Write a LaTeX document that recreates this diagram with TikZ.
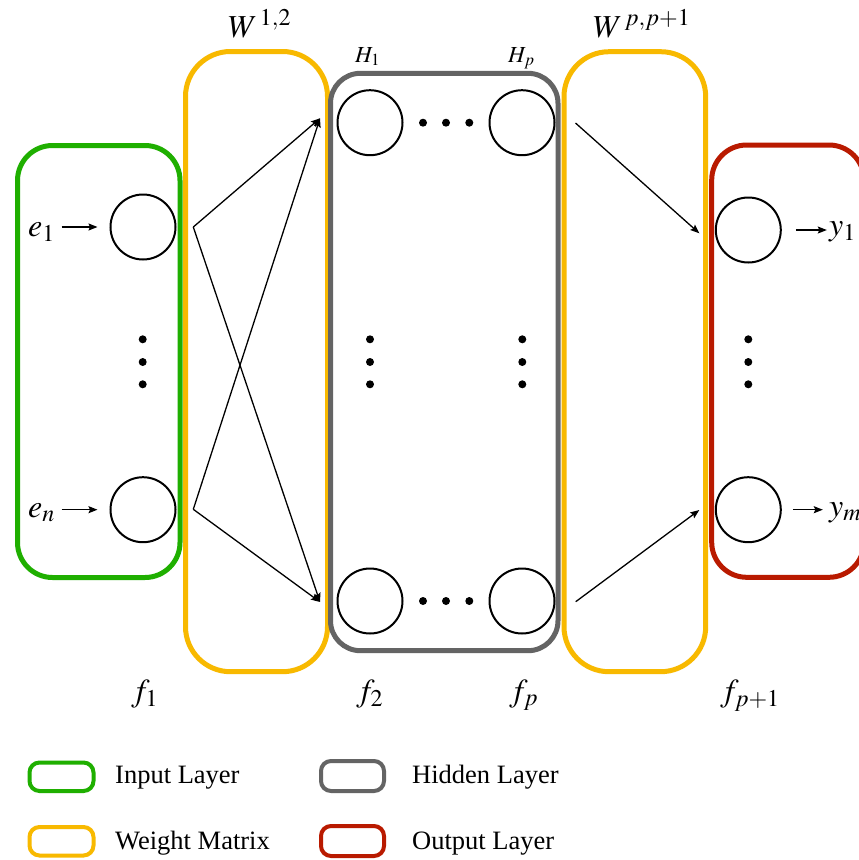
\documentclass[tikz,border=0pt]{standalone}
\usepackage{mathptmx}
\usepackage[no-math]{fontspec}
\setmainfont{Liberation Serif}
\DeclareMathSizes{32}{32}{24}{18}
\DeclareMathSizes{23}{23}{17}{13}
\usetikzlibrary{arrows.meta,calc}
\definecolor{cgreen}{RGB}{31,175,0}
\definecolor{cyellow}{RGB}{248,185,0}
\definecolor{cgray}{RGB}{100,100,100}
\definecolor{cred}{RGB}{185,26,0}
\tikzset{
  neuron/.style={circle,draw=black,line width=2pt,minimum size=65pt,inner sep=0pt},
  layerbox/.style={line width=5pt,rounded corners=#1},
  legbox/.style={line width=4pt,rounded corners=10pt},
  arr/.style={line width=1.3pt,-{Stealth[length=9pt,width=7pt,inset=1.5pt]}},
  lbl/.style={inner sep=0pt,anchor=base west,font=\fontsize{32}{38}\selectfont},
  hlbl/.style={inner sep=0pt,anchor=base west,font=\fontsize{23}{28}\selectfont},
  legtxt/.style={inner sep=0pt,anchor=base west,font=\fontsize{26.5}{32}\selectfont},
  dotmark/.style={fill=black}
}
\begin{document}
\begin{tikzpicture}[x=1pt,y=-1pt]
\useasboundingbox (0,0) rectangle (859,860);
\fill[white] (0,0) rectangle (859,860);
% layer boxes
\draw[layerbox=45pt,draw=cyellow] (185.5,51.5) rectangle (327.5,671.7);
\draw[layerbox=45pt,draw=cyellow] (564,51.7) rectangle (705.7,671.7);
\draw[layerbox=35pt,draw=cgreen] (17.5,145.5) rectangle (180,577.5);
\draw[layerbox=30pt,draw=cgray] (330.5,73.3) rectangle (558,650.7);
\draw[layerbox=35pt,draw=cred] (711.7,145) rectangle (864,577.3);
% neurons
\node[neuron] (i1) at (143,227) {};
\node[neuron] (i2) at (143,509.7) {};
\node[neuron] (h11) at (370,122.7) {};
\node[neuron] (h1p) at (522,122.7) {};
\node[neuron] (h21) at (370,601) {};
\node[neuron] (h2p) at (522,601) {};
\node[neuron] (o1) at (748.3,230) {};
\node[neuron] (o2) at (748.3,509.7) {};
% dots
\foreach \x in {423,446,469.3}{
  \fill[dotmark] (\x,122.7) circle (4);
  \fill[dotmark] (\x,601) circle (4);
}
\foreach \x in {142.7,370,522.3,748.3}{
  \foreach \y in {339.3,362,384.3}{
    \fill[dotmark] (\x,\y) circle (4);
  }
}
% labels
\node[lbl] (e1) at (28,236) {$e_1$};
\node[lbl] (en) at (28,517) {$e_n$};
\node[lbl] (y1) at (829,235) {$y_1$};
\node[lbl] (ym) at (829,516) {$y_m$};
\node[lbl] (w12) at (228,37) {$W^{\,1,2}$};
\node[lbl] (wpp) at (593,37) {$W^{\,p,p+1}$};
\node[hlbl] (H1) at (355,62) {$H_1$};
\node[hlbl] (Hp) at (508,62) {$H_p$};
\node[lbl] (f1) at (131,701) {$f_1$};
\node[lbl] (f2) at (356,701) {$f_2$};
\node[lbl] (fp) at (509,701) {$f_p$};
\node[lbl] (fpp) at (720,701) {$f_{p+1}$};
% input / output arrows
\draw[arr] ([xshift=-48pt]i1.west) -- ([xshift=-12pt]i1.west);
\draw[arr] ([xshift=-48pt]i2.west) -- ([xshift=-12pt]i2.west);
\draw[arr] ([xshift=14pt]o1.east) -- ([xshift=45pt]o1.east);
\draw[arr] ([xshift=11pt]o2.east) -- ([xshift=41pt]o2.east);
% weight connections
\coordinate (s1) at (193.3,227);
\coordinate (s2) at (193.3,509.3);
\coordinate (t1) at (320,118.3);
\coordinate (t2) at (320,602);
\draw[arr] (s1) -- (t1);
\draw[arr] (s1) -- (t2);
\draw[arr] (s2) -- (t1);
\draw[arr] (s2) -- (t2);
\coordinate (u1) at (575.5,123);
\coordinate (u2) at (575.7,601.7);
\coordinate (v1) at (699.3,233.3);
\coordinate (v2) at (699.3,510);
\draw[arr] (u1) -- (v1);
\draw[arr] (u2) -- (v2);
% legend
\draw[legbox,draw=cgreen] (29.5,762.5) rectangle (93.5,791);
\draw[legbox,draw=cyellow] (29.5,827) rectangle (93.5,855.5);
\draw[legbox,draw=cgray] (321,761) rectangle (384,791);
\draw[legbox,draw=cred] (321,826) rectangle (384,856);
\node[legtxt] (lg1) at (115,783) {Input Layer};
\node[legtxt] (lg2) at (115,849) {Weight Matrix};
\node[legtxt] (lg3) at (412,783) {Hidden Layer};
\node[legtxt] (lg4) at (412,849) {Output Layer};
\end{tikzpicture}
\end{document}
